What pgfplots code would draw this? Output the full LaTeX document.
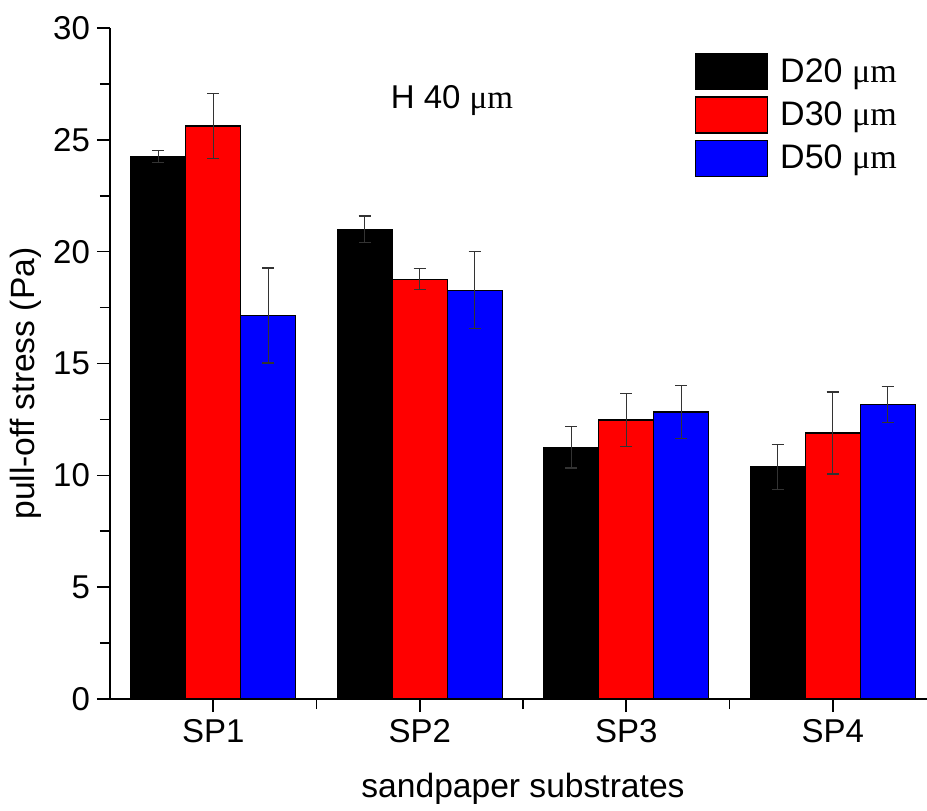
\documentclass[border=0pt]{standalone}
\usepackage{pgfplots}
\pgfplotsset{compat=1.18}
\usepackage{fontspec}
\setmainfont{Liberation Sans}
\newfontfamily\seriffont{Liberation Serif}
\newcommand{\um}{{\seriffont μm}}
\pgfplotsset{
  mylegend/.style={legend image code/.code={\draw[##1,draw=black,line width=0.6pt] (0pt,-9pt) rectangle (36pt,9pt); \path (40pt,0pt);}},
  myerr/.style={error bars/.cd, y dir=both, y explicit,
    error bar style={line width=0.7pt, color=black!80},
    error mark options={rotate=90, mark size=3pt, line width=0.7pt, color=black!80}},
}
\begin{document}
\begin{tikzpicture}
\begin{axis}[
  at={(0,0)}, anchor=south west,
  scale only axis,
  width=413pt, height=335.5pt,
  xmin=0.5, xmax=4.5, ymin=0, ymax=30,
  axis x line*=bottom, axis y line*=left,
  axis line style={-, line width=0.8pt},
  ybar=0pt, bar width=27.5pt,
  xtick={1,2,3,4}, xticklabels={SP1,SP2,SP3,SP4},
  minor xtick={1.5,2.5,3.5},
  ytick={0,5,...,30}, minor ytick={2.5,7.5,...,27.5},
  tick align=outside,
  major tick length=6.5pt, minor tick length=5pt,
  tick style={black, line width=0.8pt},
  /pgf/number format/assume math mode=true,
  ticklabel style={font=\fontsize{16.5}{18}\selectfont},
  xlabel={sandpaper substrates},
  ylabel={pull-off stress (Pa)},
  label style={font=\fontsize{16.8}{19}\selectfont},
  xlabel style={at={(axis description cs:0.5,0)}, anchor=base, yshift=-49pt},
  ylabel style={at={(axis description cs:-0.1017,0.47)}, anchor=center},
  legend style={at={(0.7005,0.969)}, anchor=north west, draw=none, fill=none,
    font=\fontsize{17}{19}\selectfont, row sep=3pt, legend cell align=left},
]
\addplot[fill=black, draw=black, line width=0.6pt, mylegend, myerr] coordinates {
  (1,24.25) +- (0,0.27)
  (2,21.0) +- (0,0.6)
  (3,11.25) +- (0,0.92)
  (4,10.38) +- (0,1.0)
};
\addlegendentry{D20 \um}
\addplot[fill=red, draw=black, line width=0.6pt, mylegend, myerr] coordinates {
  (1,25.62) +- (0,1.45)
  (2,18.77) +- (0,0.47)
  (3,12.47) +- (0,1.18)
  (4,11.89) +- (0,1.83)
};
\addlegendentry{D30 \um}
\addplot[fill=blue, draw=black, line width=0.6pt, mylegend, myerr] coordinates {
  (1,17.15) +- (0,2.12)
  (2,18.28) +- (0,1.72)
  (3,12.83) +- (0,1.18)
  (4,13.17) +- (0,0.8)
};
\addlegendentry{D50 \um}
\node[anchor=base, font=\fontsize{16.5}{18}\selectfont] at (axis cs:2.156,26.42) {H 40 \um};
\end{axis}
\pgfresetboundingbox
\useasboundingbox (-55pt,-55.5pt) rectangle (408.5pt,349.5pt);
\end{tikzpicture}
\end{document}
